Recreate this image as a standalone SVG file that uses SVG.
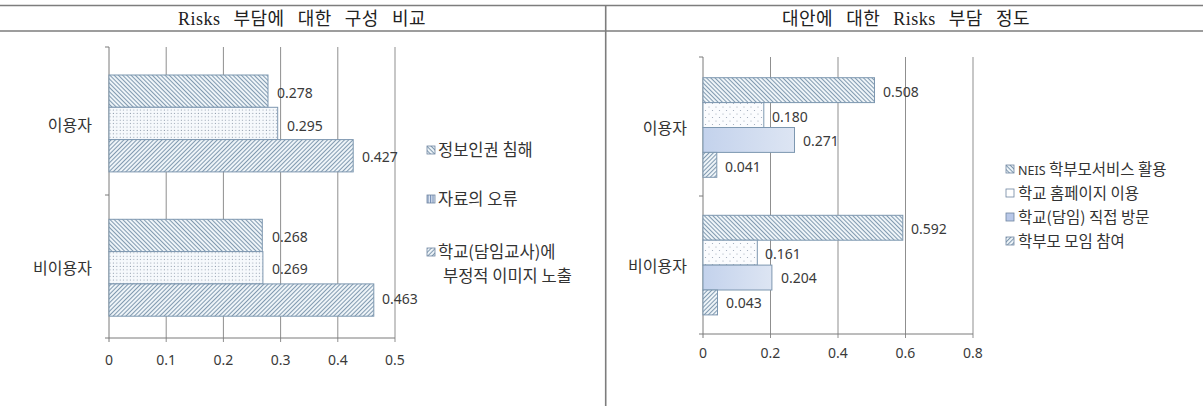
<svg xmlns="http://www.w3.org/2000/svg" width="1203" height="406" viewBox="0 0 1203 406">
<style>
.hdr{font-family:"Liberation Serif","Noto Sans CJK KR",serif;font-size:18px;fill:#222;text-anchor:middle;letter-spacing:0.5px;word-spacing:8px}
.cat{font-family:"Noto Sans CJK KR","Noto Sans",sans-serif;font-size:16px;fill:#333;text-anchor:end}
.val{font-family:"Noto Sans","Noto Sans CJK KR",sans-serif;font-size:14px;fill:#3a3a3a}
.tick{font-family:"Noto Sans","Noto Sans CJK KR",sans-serif;font-size:14px;fill:#3a3a3a;text-anchor:middle}
.leg{font-family:"Noto Sans CJK KR","Noto Sans",sans-serif;font-size:16.5px;fill:#333}
.legr{font-family:"Noto Sans CJK KR","Noto Sans",sans-serif;font-size:15.5px;fill:#333}
.grid{stroke:#8f8f8f;stroke-width:1;fill:none}
.axis{stroke:#7a7a7a;stroke-width:1;fill:none}
.rule{stroke:#7d7d7d;stroke-width:1.6;fill:none}
.bar{stroke:#7d97b0;stroke-width:1}
.sw{stroke:#6f86a0;stroke-width:0.8}
</style>
<defs>
<pattern id="bd" width="3" height="3" patternUnits="userSpaceOnUse" patternTransform="rotate(-45)">
<rect width="3" height="3" fill="#eef4f8"/>
<line x1="0.5" y1="0" x2="0.5" y2="3" stroke="#7590a8" stroke-width="0.9"/>
</pattern>
<pattern id="fd" width="3" height="3" patternUnits="userSpaceOnUse" patternTransform="rotate(45)">
<rect width="3" height="3" fill="#eef4f8"/>
<line x1="0.5" y1="0" x2="0.5" y2="3" stroke="#7590a8" stroke-width="0.9"/>
</pattern>
<pattern id="vl" width="2.5" height="3" patternUnits="userSpaceOnUse">
<rect width="2.5" height="3" fill="#dfe8f3"/>
<line x1="0.6" y1="0" x2="0.6" y2="3" stroke="#5b78a8" stroke-width="0.9"/>
</pattern>
<pattern id="dt" width="3.4" height="3.4" patternUnits="userSpaceOnUse">
<rect width="3.4" height="3.4" fill="#f6f9fc"/>
<circle cx="1.2" cy="1.2" r="0.55" fill="#8a97a8"/>
</pattern>
<pattern id="dt2" width="7" height="7" patternUnits="userSpaceOnUse">
<rect width="7" height="7" fill="#fbfcfe"/>
<circle cx="2" cy="2" r="0.6" fill="#9aa6b6"/>
<circle cx="5.5" cy="5.5" r="0.6" fill="#9aa6b6"/>
</pattern>
<linearGradient id="bl" x1="0" y1="0" x2="1" y2="0">
<stop offset="0" stop-color="#c3d2ec"/>
<stop offset="1" stop-color="#dde5f3"/>
</linearGradient>
</defs>
<rect width="1203" height="406" fill="#ffffff"/>

<g id="table-frame">
<line class="rule" x1="0" y1="5.5" x2="1203" y2="5.5"/>
<line class="rule" x1="0" y1="31" x2="1203" y2="31"/>
<line class="rule" x1="605.7" y1="5" x2="605.7" y2="406"/>
</g>
<g id="header-left"><text class="hdr" x="302" y="24.5">Risks 부담에 대한 구성 비교</text></g>
<g id="header-right"><text class="hdr" x="906" y="24.5">대안에 대한 Risks 부담 정도</text></g>

<g id="left-chart">
<g id="left-grid">
<line class="grid" x1="166.2" y1="47" x2="166.2" y2="342"/>
<line class="grid" x1="223.4" y1="47" x2="223.4" y2="342"/>
<line class="grid" x1="280.6" y1="47" x2="280.6" y2="342"/>
<line class="grid" x1="337.8" y1="47" x2="337.8" y2="342"/>
<line class="grid" x1="395" y1="47" x2="395" y2="342"/>
<line class="axis" x1="109" y1="47" x2="109" y2="342"/>
<line class="axis" x1="105" y1="338" x2="395" y2="338"/>
<line class="axis" x1="105" y1="47" x2="109" y2="47"/>
<line class="axis" x1="105" y1="195" x2="109" y2="195"/>
</g>
<g id="left-bars">
<rect class="bar" x="109" y="75" width="159" height="32.3" fill="url(#bd)"/>
<rect class="bar" x="109" y="107.3" width="168.7" height="32.3" fill="url(#dt)"/>
<rect class="bar" x="109" y="139.6" width="244.2" height="32.3" fill="url(#fd)"/>
<rect class="bar" x="109" y="219.3" width="153.3" height="32.3" fill="url(#bd)"/>
<rect class="bar" x="109" y="251.6" width="153.9" height="32.3" fill="url(#dt)"/>
<rect class="bar" x="109" y="283.9" width="264.8" height="32.3" fill="url(#fd)"/>
</g>
<g id="left-values">
<text class="val" x="277" y="98">0.278</text>
<text class="val" x="287" y="130.5">0.295</text>
<text class="val" x="362" y="161.5">0.427</text>
<text class="val" x="272" y="241.5">0.268</text>
<text class="val" x="272" y="274">0.269</text>
<text class="val" x="382" y="304">0.463</text>
</g>
<g id="left-categories">
<text class="cat" x="92" y="130.5">이용자</text>
<text class="cat" x="92" y="273.5">비이용자</text>
</g>
<g id="left-ticks">
<text class="tick" x="109" y="365">0</text>
<text class="tick" x="166.2" y="365">0.1</text>
<text class="tick" x="223.4" y="365">0.2</text>
<text class="tick" x="280.6" y="365">0.3</text>
<text class="tick" x="337.8" y="365">0.4</text>
<text class="tick" x="395" y="365">0.5</text>
</g>
<g id="left-legend">
<rect class="sw" x="427" y="146" width="8" height="8" fill="url(#bd)"/>
<text class="leg" x="438" y="155.5">정보인권 침해</text>
<rect class="sw" x="427" y="195" width="8" height="8" fill="url(#vl)"/>
<text class="leg" x="438" y="204.5">자료의 오류</text>
<rect class="sw" x="427" y="248" width="8" height="8" fill="url(#fd)"/>
<text class="leg" x="438" y="257.5">학교(담임교사)에</text>
<text class="leg" x="443" y="281.5">부정적 이미지 노출</text>
</g>
</g>

<g id="right-chart">
<g id="right-grid">
<line class="grid" x1="770.5" y1="57" x2="770.5" y2="338"/>
<line class="grid" x1="838" y1="57" x2="838" y2="338"/>
<line class="grid" x1="905.5" y1="57" x2="905.5" y2="338"/>
<line class="grid" x1="973" y1="57" x2="973" y2="338"/>
<line class="axis" x1="703" y1="57" x2="703" y2="338"/>
<line class="axis" x1="699" y1="334" x2="973" y2="334"/>
<line class="axis" x1="699" y1="57" x2="703" y2="57"/>
<line class="axis" x1="699" y1="196" x2="703" y2="196"/>
</g>
<g id="right-bars">
<rect class="bar" x="703" y="77.7" width="171.5" height="24.9" fill="url(#bd)"/>
<rect class="bar" x="703" y="102.6" width="60.8" height="24.9" fill="url(#dt2)"/>
<rect class="bar" x="703" y="127.5" width="91.5" height="24.9" fill="url(#bl)" stroke="#6f8cb8"/>
<rect class="bar" x="703" y="152.4" width="13.8" height="24.9" fill="url(#fd)"/>
<rect class="bar" x="703" y="215.3" width="199.8" height="24.9" fill="url(#bd)"/>
<rect class="bar" x="703" y="240.2" width="54.3" height="24.9" fill="url(#dt2)"/>
<rect class="bar" x="703" y="265.1" width="68.9" height="24.9" fill="url(#bl)" stroke="#6f8cb8"/>
<rect class="bar" x="703" y="290" width="14.5" height="24.9" fill="url(#fd)"/>
</g>
<g id="right-values">
<text class="val" x="883" y="97">0.508</text>
<text class="val" x="772" y="121.5">0.180</text>
<text class="val" x="803" y="146">0.271</text>
<text class="val" x="725" y="171.5">0.041</text>
<text class="val" x="911" y="234">0.592</text>
<text class="val" x="765" y="259">0.161</text>
<text class="val" x="781" y="283">0.204</text>
<text class="val" x="726" y="308">0.043</text>
</g>
<g id="right-categories">
<text class="cat" x="687" y="133.5">이용자</text>
<text class="cat" x="687" y="271.5">비이용자</text>
</g>
<g id="right-ticks">
<text class="tick" x="703" y="358">0</text>
<text class="tick" x="770.5" y="358">0.2</text>
<text class="tick" x="838" y="358">0.4</text>
<text class="tick" x="905.5" y="358">0.6</text>
<text class="tick" x="973" y="358">0.8</text>
</g>
<g id="right-legend">
<rect class="sw" x="1006" y="165" width="8" height="8" fill="url(#bd)"/>
<text class="legr" x="1018" y="174.5"><tspan font-family="Noto Sans,sans-serif" font-size="12.5">NEIS</tspan> 학부모서비스 활용</text>
<rect class="sw" x="1006" y="189" width="8" height="8" fill="#ffffff" stroke="#888"/>
<text class="legr" x="1018" y="198.5">학교 홈페이지 이용</text>
<rect class="sw" x="1006" y="213" width="8" height="8" fill="#b9c8e8"/>
<text class="legr" x="1018" y="222.5">학교(담임) 직접 방문</text>
<rect class="sw" x="1006" y="237" width="8" height="8" fill="url(#fd)"/>
<text class="legr" x="1018" y="246.5">학부모 모임 참여</text>
</g>
</g>
</svg>
